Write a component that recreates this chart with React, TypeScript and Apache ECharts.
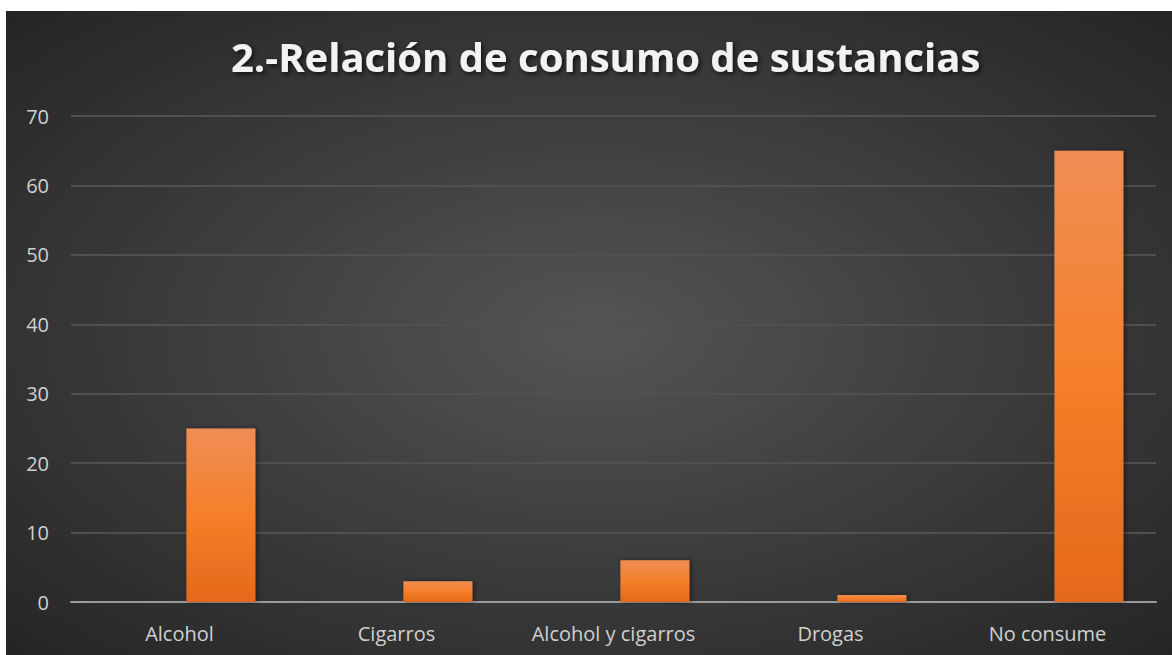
import React, { useEffect, useRef } from "react";
import * as echarts from "echarts";

const categories = ["Alcohol", "Cigarros", "Alcohol y cigarros", "Drogas", "No consume"];
const consumo = [25, 3, 6, 1, 65];
const vacio = [null, null, null, null, null];
const titleText = "2.-Relación de consumo de sustancias";

export default function App() {
  const ref = useRef<HTMLDivElement>(null);

  useEffect(() => {
    if (!ref.current) return;
    const chart = echarts.init(ref.current, undefined, { renderer: "svg" });
    const font = "'Open Sans', Lato, sans-serif";
    chart.setOption({
      animation: false,
      backgroundColor: {
        type: "radial",
        x: 0.505,
        y: 0.5,
        r: 0.75,
        colorStops: [
          { offset: 0, color: "#545454" },
          { offset: 1, color: "#222222" },
        ],
      },
      title: {
        text: titleText,
        left: 220,
        top: 20,
        textStyle: {
          color: "#f2f2f2",
          fontFamily: font,
          fontWeight: "bold",
          fontSize: 40,
          textShadowColor: "rgba(0,0,0,0.7)",
          textShadowBlur: 5,
          textShadowOffsetX: 2,
          textShadowOffsetY: 2,
        },
      },
      grid: { left: 65, right: 16, top: 105, bottom: 53 },
      xAxis: {
        type: "category",
        data: categories,
        axisLine: { lineStyle: { color: "#9a9a9a", width: 2 } },
        axisTick: { show: false },
        axisLabel: { color: "#d0d0d0", fontSize: 20, fontFamily: font, margin: 21 },
      },
      yAxis: {
        type: "value",
        min: 0,
        max: 70,
        interval: 10,
        axisLine: { show: false },
        axisTick: { show: false },
        splitLine: { lineStyle: { color: "#505050", width: 2 } },
        axisLabel: { color: "#d0d0d0", fontSize: 20, fontFamily: font, margin: 22 },
      },
      series: [
        { type: "bar", data: vacio, barWidth: 69, barGap: "20%" },
        {
          type: "bar",
          data: consumo,
          barWidth: 69,
          barGap: "20%",
          itemStyle: {
            color: {
              type: "linear",
              x: 0,
              y: 0,
              x2: 0,
              y2: 1,
              colorStops: [
                { offset: 0, color: "#f08d55" },
                { offset: 0.5, color: "#f57f2a" },
                { offset: 1, color: "#e4691b" },
              ],
            },
            shadowColor: "rgba(0,0,0,0.45)",
            shadowBlur: 5,
            shadowOffsetX: 2,
            shadowOffsetY: 0,
          },
        },
      ],
    });
    return () => chart.dispose();
  }, []);

  return (
    <div
      ref={ref}
      style={{ position: "absolute", left: 6, top: 11, width: 1166, height: 644 }}
    />
  );
}
